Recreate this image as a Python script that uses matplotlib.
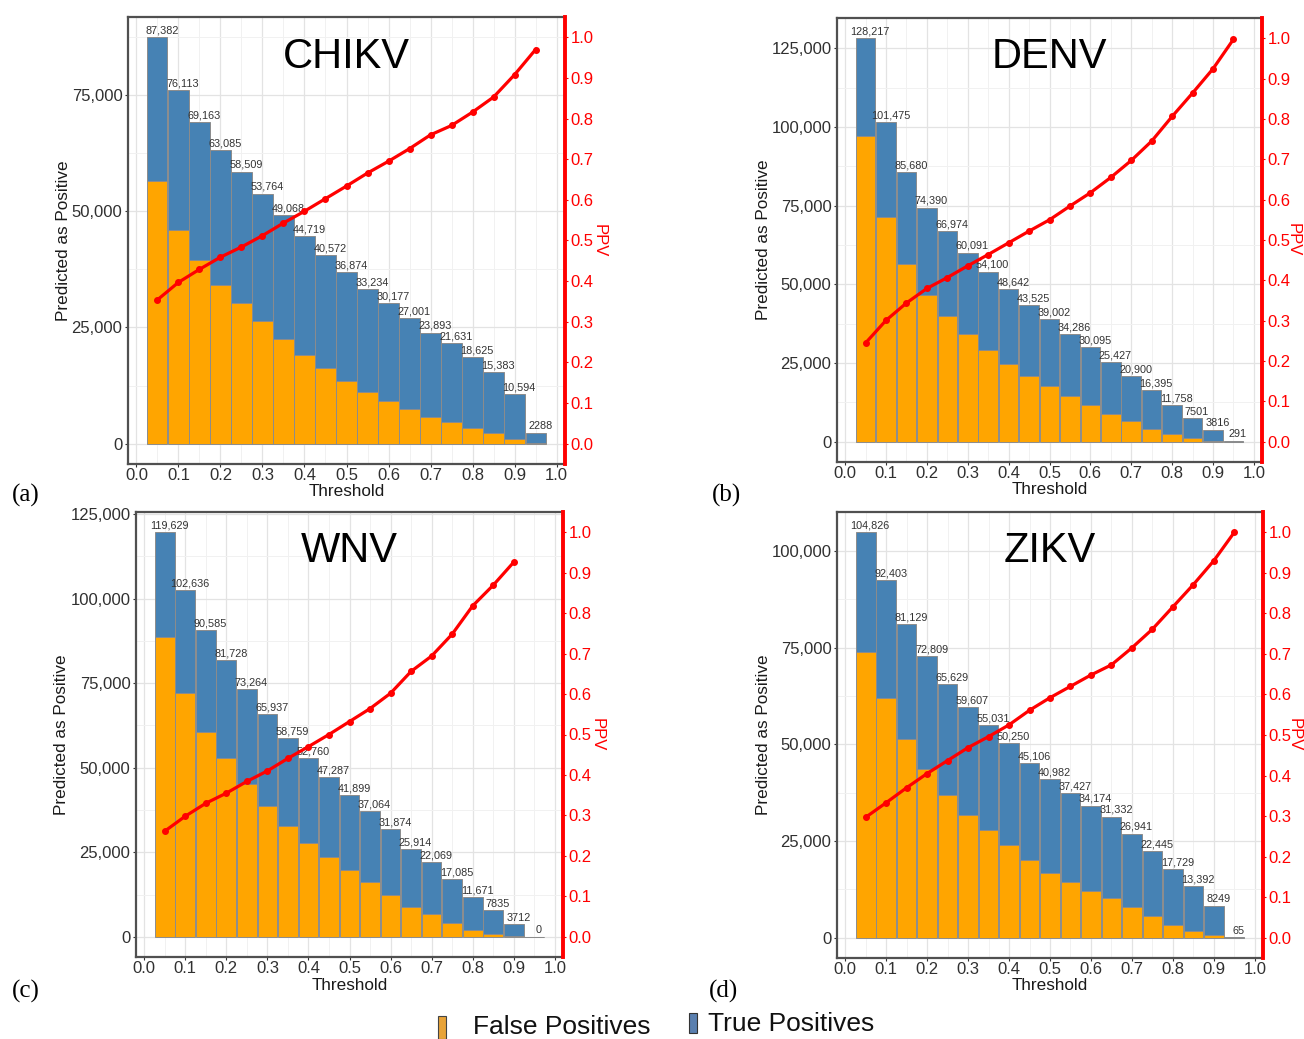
import matplotlib
matplotlib.use('Agg')
import matplotlib.pyplot as plt
import numpy as np
from matplotlib.ticker import FuncFormatter, MultipleLocator
from matplotlib.patches import Rectangle

plt.rcParams['font.family'] = ['Liberation Sans', 'DejaVu Sans']

thresholds = [0.05, 0.10, 0.15, 0.20, 0.25, 0.30, 0.35, 0.40, 0.45, 0.50,
              0.55, 0.60, 0.65, 0.70, 0.75, 0.80, 0.85, 0.90, 0.95]

chikv_total = [87382, 76113, 69163, 63085, 58509, 53764, 49068, 44719, 40572, 36874,
               33234, 30177, 27001, 23893, 21631, 18625, 15383, 10594, 2288]
chikv_fp = [56500, 46000, 39600, 34200, 30300, 26300, 22500, 19100, 16200, 13500,
            11100, 9200, 7400, 5800, 4700, 3400, 2200, 1000, 70]
chikv_ppv = [0.354, 0.397, 0.429, 0.459, 0.484, 0.512, 0.543, 0.572, 0.603, 0.634,
             0.666, 0.695, 0.726, 0.760, 0.783, 0.816, 0.853, 0.908, 0.970]

denv_total = [128217, 101475, 85680, 74390, 66974, 60091, 54100, 48642, 43525, 39002,
              34286, 30095, 25427, 20900, 16395, 11758, 7501, 3816, 291]
denv_fp = [97300, 71300, 56600, 46500, 40000, 34100, 29100, 24800, 21000, 17700,
           14400, 11700, 8900, 6500, 4200, 2400, 1060, 320, 0]
denv_ppv = [0.245, 0.301, 0.344, 0.380, 0.407, 0.436, 0.464, 0.493, 0.522, 0.550,
            0.584, 0.617, 0.655, 0.697, 0.745, 0.806, 0.864, 0.924, 0.997]

wnv_total = [119629, 102636, 90585, 81728, 73264, 65937, 58759, 52760, 47287, 41899,
             37064, 31874, 25914, 22069, 17085, 11671, 7835, 3712, 0]
wnv_fp = [88600, 72100, 60700, 52800, 45100, 38800, 32800, 27800, 23600, 19600,
          16100, 12400, 8800, 6600, 4100, 1970, 890, 200, 0]
wnv_ppv = [0.261, 0.298, 0.330, 0.355, 0.384, 0.410, 0.441, 0.470, 0.500, 0.532,
           0.564, 0.602, 0.656, 0.694, 0.748, 0.818, 0.869, 0.926, np.nan]

zikv_total = [104826, 92403, 81129, 72809, 65629, 59607, 55031, 50250, 45106, 40982,
              37427, 34174, 31332, 26941, 22445, 17729, 13392, 8249, 65]
zikv_fp = [73800, 61900, 51300, 43500, 37000, 31700, 27900, 24000, 20100, 16800,
           14300, 12100, 10400, 7900, 5500, 3400, 1800, 770, 0]
zikv_ppv = [0.297, 0.333, 0.370, 0.405, 0.437, 0.469, 0.496, 0.525, 0.561, 0.592,
            0.620, 0.648, 0.673, 0.715, 0.761, 0.816, 0.871, 0.930, 1.000]

panels = [
    ("CHIKV", "(a)", chikv_total, chikv_fp, chikv_ppv),
    ("DENV", "(b)", denv_total, denv_fp, denv_ppv),
    ("WNV", "(c)", wnv_total, wnv_fp, wnv_ppv),
    ("ZIKV", "(d)", zikv_total, zikv_fp, zikv_ppv),
]

W, H = 1304, 1039
fig = plt.figure(figsize=(W / 100, H / 100), dpi=100)

# axes boxes in pixels: left, right, top, bottom
boxes = [(128, 565, 17, 464), (837, 1262, 18, 462), (136, 563, 512, 957), (837, 1263, 512, 958)]
ylabel_x = [63, 763, 62, 763]
ppv_off = [34.5, 31, 34.5, 31]
panel_lbl = [(26, 495), (727, 495), (26, 991), (723, 991)]

FP_COLOR = '#FFA500'
TP_COLOR = '#4682B4'
fmt = FuncFormatter(lambda v, p: f"{int(round(v)):,}")


def lab(v):
    return f"{v:,}" if v >= 10000 else f"{v}"


for (name, plabel, total, fp, ppv), (l, r, t, b), ylx, poff, (plx, ply) in zip(
        panels, boxes, ylabel_x, ppv_off, panel_lbl):
    ax = fig.add_axes([l / W, 1 - b / H, (r - l) / W, (b - t) / H])
    total = np.array(total, dtype=float)
    fp = np.array(fp, dtype=float)
    tp = total - fp
    M = total.max()
    ax.set_xlim(-0.02, 1.02)
    ax.set_ylim(-0.05 * M, 1.05 * M)
    ax.set_axisbelow(True)
    ax.xaxis.set_major_locator(MultipleLocator(0.1))
    ax.xaxis.set_minor_locator(MultipleLocator(0.05))
    ax.yaxis.set_major_locator(MultipleLocator(25000))
    ax.yaxis.set_minor_locator(MultipleLocator(12500))
    ax.yaxis.set_major_formatter(fmt)
    ax.xaxis.set_major_formatter(FuncFormatter(lambda v, p: f"{v:.1f}"))
    ax.grid(which='major', color='#e3e3e3', lw=0.9)
    ax.grid(which='minor', color='#f1f1f1', lw=0.7)
    ax.bar(thresholds, fp, width=0.048, color=FP_COLOR, edgecolor='#8c8c8c', lw=0.7, zorder=2)
    ax.bar(thresholds, tp, width=0.048, bottom=fp, color=TP_COLOR, edgecolor='#8c8c8c', lw=0.7, zorder=2)
    for x, v in zip(thresholds, total):
        ax.annotate(lab(int(v)), (x + 0.011, v), xytext=(0, 1.2), textcoords='offset points',
                    ha='center', va='bottom', fontsize=7.8, color='#333333', zorder=3)
    ax.tick_params(axis='both', which='major', length=2.5, width=0.8, color='#333333',
                   labelsize=12, labelcolor='#303030', pad=1.5)
    ax.tick_params(axis='x', which='major', pad=0.5)
    ax.tick_params(axis='both', which='minor', length=0)
    ax.tick_params(axis='y', right=False)
    for s in ['left', 'bottom', 'top']:
        ax.spines[s].set_color('#505050')
        ax.spines[s].set_linewidth(1.6)
    ax.spines['right'].set_visible(False)
    ax.text(0.5, 0.887, name, transform=ax.transAxes, ha='center', va='baseline',
            fontsize=30, color='black', zorder=5)

    ax2 = ax.twinx()
    ax2.set_ylim(-0.05, 1.05)
    ax2.yaxis.set_major_locator(MultipleLocator(0.1))
    ax2.yaxis.set_major_formatter(FuncFormatter(lambda v, p: f"{v:.1f}"))
    ax2.plot(thresholds, ppv, color='red', lw=2.3, marker='o', ms=4, zorder=4)
    for s in ['left', 'bottom', 'top']:
        ax2.spines[s].set_visible(False)
    ax2.spines['right'].set_color('red')
    ax2.spines['right'].set_linewidth(2.8)
    ax2.tick_params(axis='y', length=2.5, width=0.8, color='red', labelcolor='red',
                    labelsize=12, pad=1.5)

    cx = (l + r) / 2
    cy = (t + b) / 2
    fig.text(ylx / W, 1 - cy / H, "Predicted as Positive", rotation=90, ha='center', va='center',
             fontsize=12.3, color='#1a1a1a')
    fig.text((r + poff) / W, 1 - cy / H, "PPV", rotation=-90, ha='center', va='center',
             fontsize=12, color='red')
    fig.text(cx / W, 1 - (b + 28) / H, "Threshold", ha='center', va='center',
             fontsize=12.3, color='#1a1a1a')
    fig.text(plx / W, 1 - ply / H, plabel, ha='center', va='center', fontsize=18,
             family='Liberation Serif', color='black')

# figure-level legend
fig.patches.append(Rectangle((438 / W, 1 - 1039 / H), 8 / W, 23 / H, transform=fig.transFigure,
                             facecolor='#E8A338', edgecolor='#444444', lw=0.8))
fig.text(473 / W, 1 - 1027 / H, "False Positives", ha='left', va='center', fontsize=19, color='#111111')
fig.patches.append(Rectangle((689 / W, 1 - 1033 / H), 8 / W, 20 / H, transform=fig.transFigure,
                             facecolor='#5A7FAF', edgecolor='#333333', lw=0.8))
fig.text(708 / W, 1 - 1024 / H, "True Positives", ha='left', va='center', fontsize=19, color='#111111')

fig.savefig('out.png', dpi=100, facecolor='white')
